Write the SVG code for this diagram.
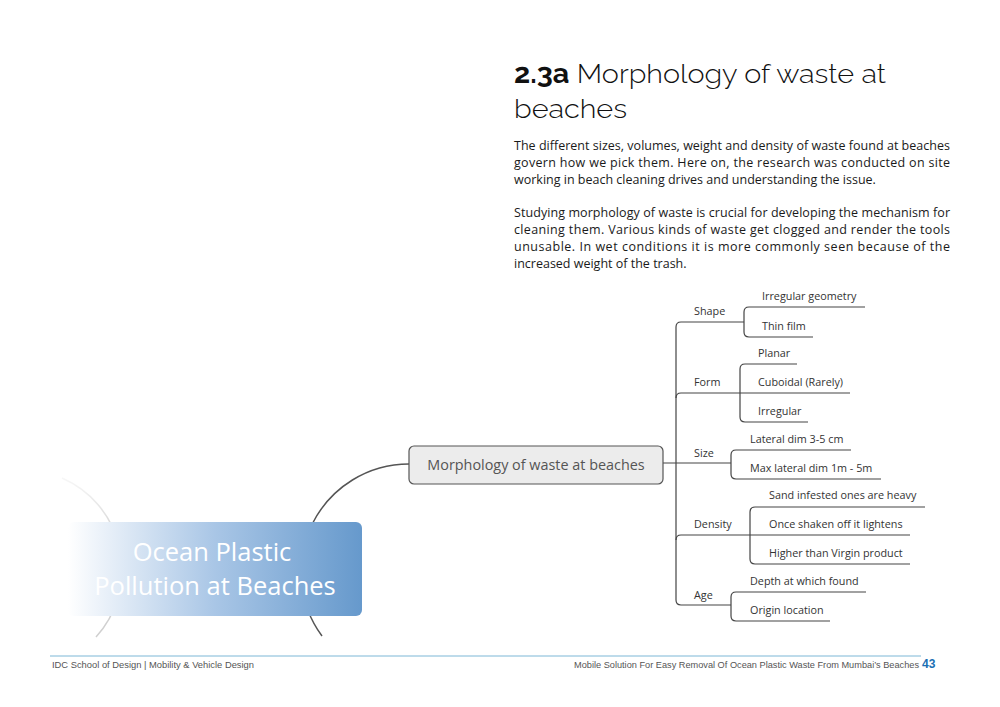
<svg xmlns="http://www.w3.org/2000/svg" width="1000" height="707" viewBox="0 0 1000 707">
<defs>
<linearGradient id="blueGrad" x1="0" y1="0" x2="1" y2="0">
<stop offset="0" stop-color="#ffffff"/>
<stop offset="0.12" stop-color="#eaf1f9"/>
<stop offset="0.5" stop-color="#a9c6e6"/>
<stop offset="1" stop-color="#6699cc"/>
</linearGradient>
<linearGradient id="grayArc" x1="0" y1="0" x2="0" y2="1">
<stop offset="0" stop-color="#e4e4e4" stop-opacity="0.3"/>
<stop offset="0.3" stop-color="#d8d8d8"/>
<stop offset="1" stop-color="#cfcfcf"/>
</linearGradient>
<style>
.body{font-family:"Open Sans","Noto Sans",sans-serif;font-size:12.5px;fill:#1a1a1a}
.mm{font-family:"Open Sans","Noto Sans",sans-serif;font-size:10.8px;fill:#333}
.ln{fill:none;stroke:#444;stroke-width:1.2}
.foot{font-family:"Liberation Sans",sans-serif;font-size:9px;fill:#555}
</style>
</defs>
<rect width="1000" height="707" fill="#ffffff"/>

<g id="title">
<text x="514" y="83" font-family="Raleway,Lato,sans-serif" font-size="27" fill="#111" textLength="372" lengthAdjust="spacingAndGlyphs"><tspan font-weight="700">2.3a</tspan><tspan font-weight="300"> Morphology of waste at</tspan></text>
<text x="514" y="118" font-family="Raleway,Lato,sans-serif" font-size="27" font-weight="300" fill="#111" textLength="113" lengthAdjust="spacingAndGlyphs">beaches</text>
</g>

<g id="body-text">
<text class="body" x="514" y="150" textLength="436" lengthAdjust="spacing">The different sizes, volumes, weight and density of waste found at beaches</text>
<text class="body" x="514" y="167" textLength="436" lengthAdjust="spacing">govern how we pick them. Here on, the research was conducted on site</text>
<text class="body" x="514" y="184">working in beach cleaning drives and understanding the issue.</text>
<text class="body" x="514" y="217" textLength="436" lengthAdjust="spacing">Studying morphology of waste is crucial for developing the mechanism for</text>
<text class="body" x="514" y="234" textLength="436" lengthAdjust="spacing">cleaning them. Various kinds of waste get clogged and render the tools</text>
<text class="body" x="514" y="251" textLength="436" lengthAdjust="spacing">unusable. In wet conditions it is more commonly seen because of the</text>
<text class="body" x="514" y="268">increased weight of the trash.</text>
</g>

<g id="connectors">
<path d="M 62,478 A 100 100 0 0 1 96,637" fill="none" stroke="url(#grayArc)" stroke-width="1.5"/>
<path d="M 409,464 A 108 108 0 0 0 322,636" fill="none" stroke="#555" stroke-width="1.5"/>
<path class="ln" d="M 744,322 H 681 Q 676,322 676,327 V 600 Q 676,605 681,605 H 731"/>
<path class="ln" d="M 676,398 Q 676,393 681,393 H 850"/>
<path class="ln" d="M 676,540 Q 676,535 681,535 H 910"/>
<path class="ln" d="M 663,463 H 731"/>
<path class="ln" d="M 813,337 H 749 Q 744,337 744,332 V 312 Q 744,307 749,307 H 865"/>
<path class="ln" d="M 797,364 H 745 Q 740,364 740,369 V 417 Q 740,422 745,422 H 808"/>
<path class="ln" d="M 851,450 H 736 Q 731,450 731,455 V 474 Q 731,479 736,479 H 881"/>
<path class="ln" d="M 925,507 H 755 Q 750,507 750,512 V 559 Q 750,564 755,564 H 910"/>
<path class="ln" d="M 866,592 H 736 Q 731,592 731,597 V 616 Q 731,621 736,621 H 830"/>
</g>

<g id="central-node">
<rect x="68" y="522" width="294" height="94" rx="6" fill="url(#blueGrad)"/>
<text x="212" y="561" text-anchor="middle" font-family="Open Sans,Noto Sans,sans-serif" font-size="25.5" fill="#ffffff">Ocean Plastic</text>
<text x="215" y="595" text-anchor="middle" font-family="Open Sans,Noto Sans,sans-serif" font-size="25.5" fill="#ffffff">Pollution at Beaches</text>
</g>

<g id="main-topic">
<rect x="409" y="446" width="254" height="38" rx="5" fill="#ececec" stroke="#555" stroke-width="1.2"/>
<text x="536" y="470" text-anchor="middle" font-family="Open Sans,Noto Sans,sans-serif" font-size="14.4" fill="#555">Morphology of waste at beaches</text>
</g>

<g id="shape"><text class="mm" x="694" y="315">Shape</text></g>
<g id="shape-irregular-geometry"><text class="mm" x="762" y="300">Irregular geometry</text></g>
<g id="shape-thin-film"><text class="mm" x="762" y="330">Thin film</text></g>

<g id="form"><text class="mm" x="694" y="386">Form</text></g>
<g id="form-planar"><text class="mm" x="758" y="357">Planar</text></g>
<g id="form-cuboidal"><text class="mm" x="758" y="386">Cuboidal (Rarely)</text></g>
<g id="form-irregular"><text class="mm" x="758" y="415">Irregular</text></g>

<g id="size"><text class="mm" x="694" y="457">Size</text></g>
<g id="size-lateral"><text class="mm" x="750" y="443">Lateral dim 3-5 cm</text></g>
<g id="size-max"><text class="mm" x="750" y="472">Max lateral dim 1m - 5m</text></g>

<g id="density"><text class="mm" x="694" y="528">Density</text></g>
<g id="density-sand"><text class="mm" x="769" y="499">Sand infested ones are heavy</text></g>
<g id="density-shaken"><text class="mm" x="769" y="528">Once shaken off it lightens</text></g>
<g id="density-higher"><text class="mm" x="769" y="557">Higher than Virgin product</text></g>

<g id="age"><text class="mm" x="694" y="599">Age</text></g>
<g id="age-depth"><text class="mm" x="750" y="585">Depth at which found</text></g>
<g id="age-origin"><text class="mm" x="750" y="614">Origin location</text></g>

<g id="footer">
<line x1="50" y1="656" x2="921" y2="656" stroke="#7db7d6" stroke-width="1"/>
<text class="foot" x="52" y="668" textLength="202" lengthAdjust="spacingAndGlyphs">IDC School of Design | Mobility &amp; Vehicle Design</text>
<text class="foot" x="574" y="668" textLength="345" lengthAdjust="spacingAndGlyphs">Mobile Solution For Easy Removal Of Ocean Plastic Waste From Mumbai’s Beaches</text>
<text x="922" y="668" font-family="Liberation Sans,sans-serif" font-size="12" font-weight="700" fill="#1a6fb3">43</text>
</g>
</svg>
